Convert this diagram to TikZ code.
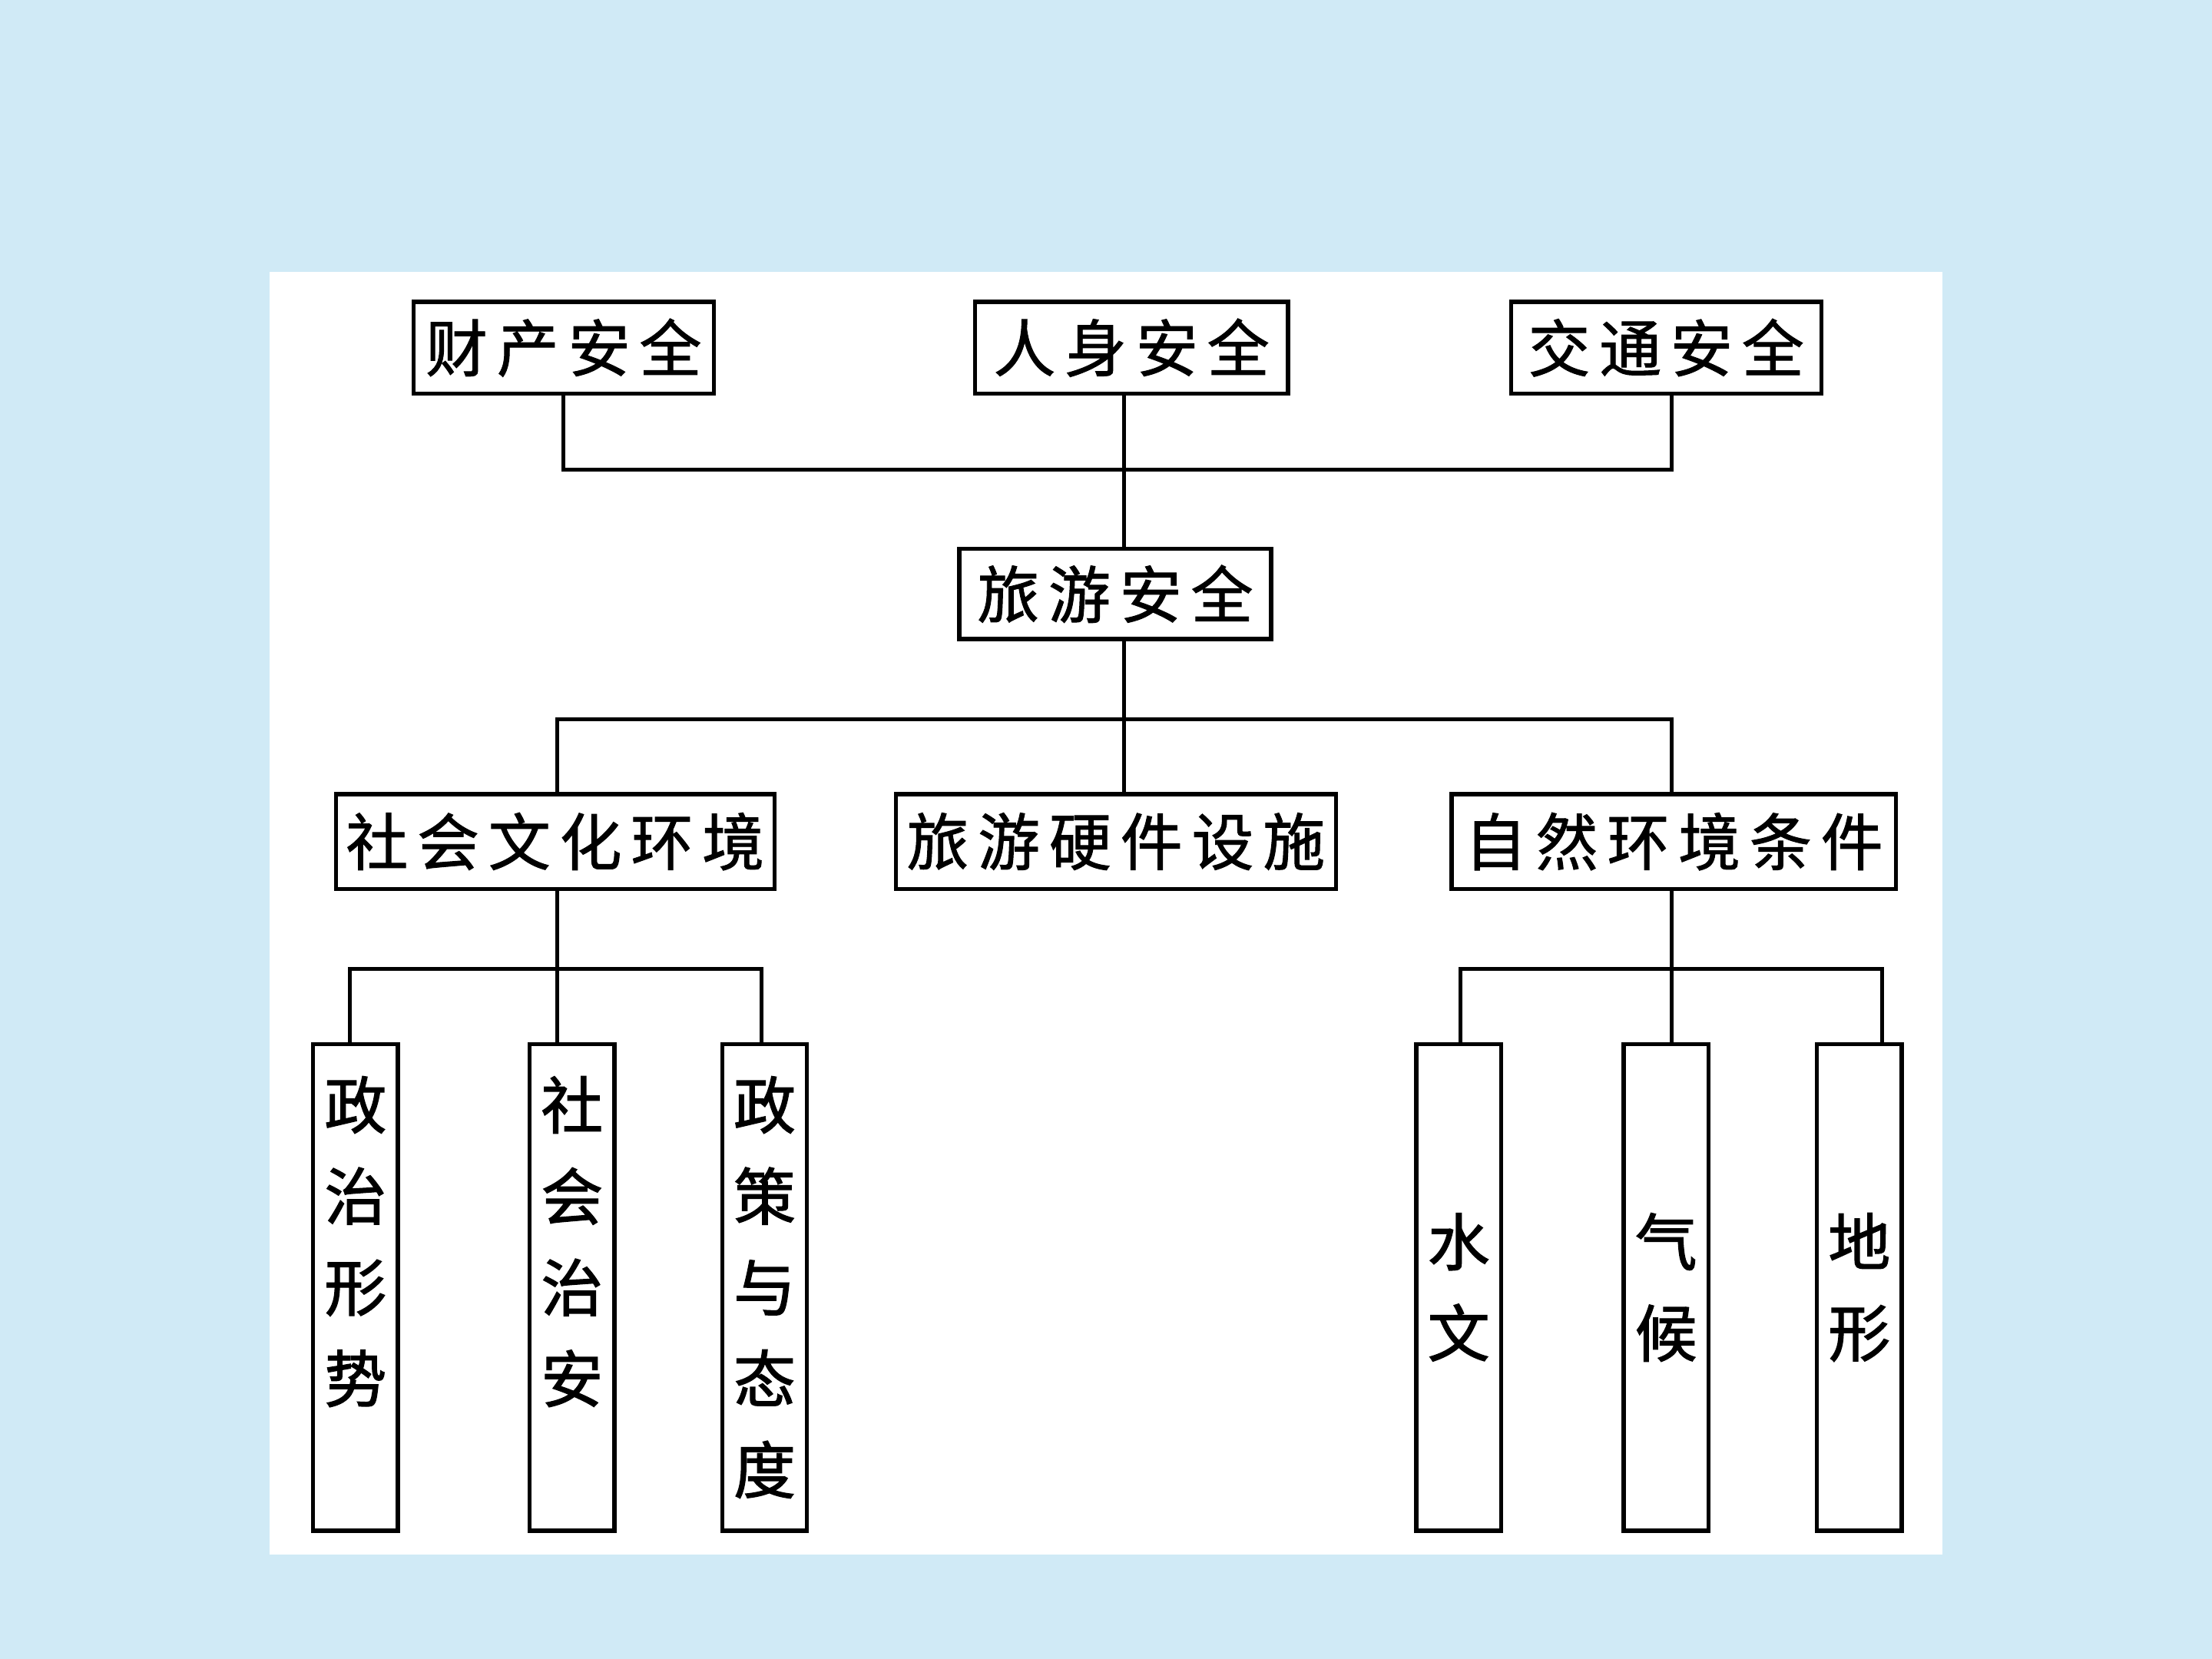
\documentclass[tikz,border=0pt]{standalone}
\usepackage{fontspec}
\newfontfamily\cjkh[FakeBold=1.2]{Noto Sans CJK SC}
\newfontfamily\cjkv[FakeBold=1.6]{Noto Sans CJK SC}
\definecolor{bgblue}{RGB}{208,234,246}
\makeatletter
\newcommand\hzsp[1]{\@tfor\hz@c:=#1\do{\makebox[26.4pt]{\hz@c}}}
\makeatother
\tikzset{
  hbox/.style 2 args={draw, line width=1.5pt, fill=white, inner sep=0pt,
    minimum width=#1*0.018367cm, minimum height=#2*0.018367cm,
    font=\cjkh\fontsize{23}{28}\selectfont},
  vbox/.style={draw, line width=1.5pt, fill=white, inner sep=0pt,
    minimum width=60*0.018367cm, minimum height=345*0.018367cm,
    align=center, font=\cjkv\fontsize{23}{33.8}\selectfont},
  ln/.style={line width=1.4pt, line join=miter}
}
\begin{document}
\begin{tikzpicture}[x=0.018367cm, y=-0.018367cm]
\useasboundingbox (0,0) rectangle (1568,1176);
\fill[bgblue] (0,0) rectangle (1568,1176);
\fill[white] (191,193) rectangle (1377,1102);

% connector columns and bars
\coordinate (X248) at (248,0);
\coordinate (X395) at (395,0);
\coordinate (X540) at (540,0);
\coordinate (X797) at (797,0);
\coordinate (X1035) at (1035,0);
\coordinate (X1185) at (1185,0);
\coordinate (X1334) at (1334,0);
\coordinate (Y333) at (0,333);
\coordinate (Y510) at (0,510);
\coordinate (Y687) at (0,687);

% level 1
\node[hbox={213}{65}] (caichan) at (399.5,246.5) {\hzsp{财产安全}};
\node[hbox={222}{65}] (renshen) at (802,246.5) {\hzsp{人身安全}};
\node[hbox={220}{65}] (jiaotong) at (1181,246.5) {\hzsp{交通安全}};
% level 2
\node[hbox={221}{64}] (lvyou) at (790.5,421) {\hzsp{旅游安全}};
% level 3
\node[hbox={311}{67}] (shehui) at (393.5,596.5) {\hzsp{社会文化环境}};
\node[hbox={312}{67}] (yingjian) at (791,596.5) {\hzsp{旅游硬件设施}};
\node[hbox={315}{67}] (ziran) at (1186.5,596.5) {\hzsp{自然环境条件}};
% level 4
\node[vbox] (zz) at (252,912.5) {政\\治\\形\\势\\\phantom{政}};
\node[vbox] (sh) at (405.5,912.5) {社\\会\\治\\安\\\phantom{社}};
\node[vbox] (zc) at (542,912.5) {政\\策\\与\\态\\度};
\node[vbox] (sw) at (1034,912.5) {水\\文};
\node[vbox] (qh) at (1181,912.5) {气\\候};
\node[vbox] (dx) at (1318,912.5) {地\\形};

% connectors
\draw[ln] (caichan.south) -- (caichan.south |- Y333) -- (X1185 |- Y333) -- (X1185 |- jiaotong.south);
\draw[ln] (X797 |- renshen.south) -- (X797 |- lvyou.north);
\draw[ln] (X797 |- lvyou.south) -- (X797 |- yingjian.north);
\draw[ln] (X395 |- shehui.north) -- (X395 |- Y510) -- (X1185 |- Y510) -- (X1185 |- ziran.north);
\draw[ln] (X395 |- shehui.south) -- (X395 |- sh.north);
\draw[ln] (X248 |- zz.north) -- (X248 |- Y687) -- (X540 |- Y687) -- (X540 |- zc.north);
\draw[ln] (X1185 |- ziran.south) -- (X1185 |- qh.north);
\draw[ln] (X1035 |- sw.north) -- (X1035 |- Y687) -- (X1334 |- Y687) -- (X1334 |- dx.north);
\end{tikzpicture}
\end{document}
